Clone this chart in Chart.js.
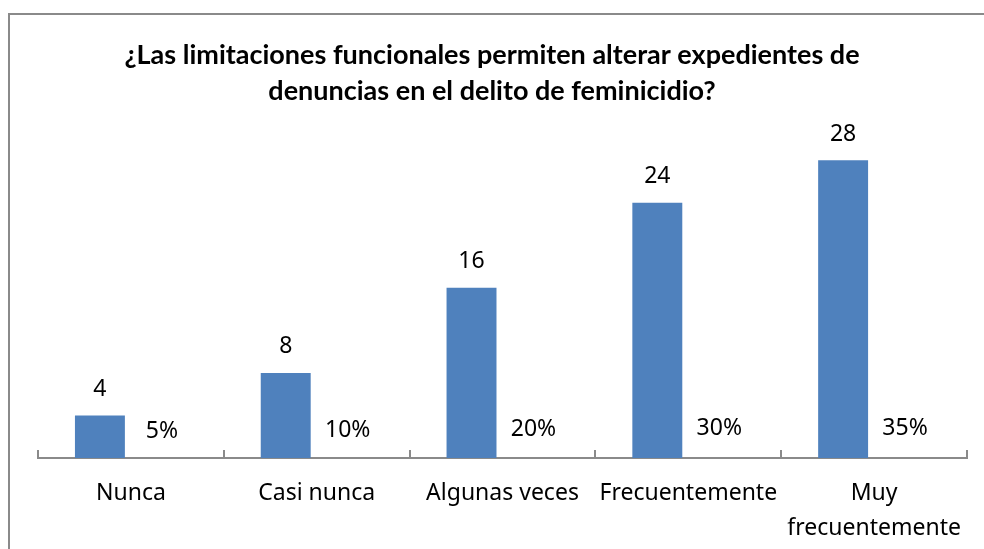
<!DOCTYPE html>
<html lang="es">
<head>
    <meta charset="UTF-8">
    <title>Limitaciones funcionales</title>
    <script src="https://cdn.jsdelivr.net/npm/chart.js"></script>
    <style>
        html, body { margin: 0; padding: 0; background: #fff; }
        #chart { display: block; }
    </style>
</head>
<body>
    <canvas id="chart" width="984" height="549"></canvas>

    <script>
        // Datos
        const categorias = ['Nunca', 'Casi nunca', 'Algunas veces', 'Frecuentemente', ['Muy', 'frecuentemente']];
        const frecuencias = [4, 8, 16, 24, 28];
        const porcentajes = [0.05, 0.10, 0.20, 0.30, 0.35];
        const titulo = ['¿Las limitaciones funcionales permiten alterar expedientes de', 'denuncias en el delito de feminicidio?'];

        const labelFont = '23px "Noto Sans", sans-serif';

        // marco gris del area del grafico
        const frame = {
            id: 'frame',
            beforeDraw(chart) {
                const c = chart.ctx;
                c.save();
                c.fillStyle = '#fff';
                c.fillRect(0, 0, chart.width, chart.height);
                c.strokeStyle = '#8a8a8a';
                c.lineWidth = 2;
                c.strokeRect(9, 14, 1200, 1000);
                c.restore();
            }
        };

        // etiquetas de datos sobre cada barra
        const dataLabels = {
            id: 'dataLabels',
            afterDatasetsDraw(chart) {
                const c = chart.ctx;
                c.save();
                c.font = labelFont;
                c.fillStyle = '#000';
                c.textAlign = 'center';
                c.textBaseline = 'middle';
                chart.data.datasets.forEach((ds, i) => {
                    chart.getDatasetMeta(i).data.forEach((bar, j) => {
                        const v = ds.data[j];
                        const txt = i === 1 ? Math.round(v * 100) + '%' : String(v);
                        c.fillText(txt, bar.x, bar.y - 26);
                    });
                });
                c.restore();
            }
        };

        const ctx = document.getElementById('chart').getContext('2d');
        new Chart(ctx, {
            type: 'bar',
            data: {
                labels: categorias,
                datasets: [{
                    label: 'Frecuencia',
                    data: frecuencias,
                    backgroundColor: '#4f81bd',
                    categoryPercentage: 0.667,
                    barPercentage: 0.806
                }, {
                    label: 'Porcentaje',
                    data: porcentajes,
                    backgroundColor: 'rgba(0,0,0,0)',
                    categoryPercentage: 0.667,
                    barPercentage: 0.806
                }]
            },
            options: {
                responsive: false,
                animation: false,
                layout: { padding: { left: 17, right: 17, top: 0, bottom: 0 } },
                plugins: {
                    legend: { display: false },
                    tooltip: { enabled: false },
                    title: {
                        display: true,
                        text: titulo,
                        color: '#000',
                        font: { family: '"Liberation Sans Narrow", "Lato", sans-serif', size: 27, weight: 'bold', lineHeight: '36px' },
                        padding: { top: 37, bottom: 30 }
                    }
                },
                scales: {
                    x: {
                        offset: true,
                        grid: {
                            display: true,
                            offset: true,
                            drawOnChartArea: false,
                            drawTicks: true,
                            tickLength: -8,
                            color: '#8a8a8a',
                            lineWidth: 2
                        },
                        border: { display: true, color: '#8a8a8a', width: 2 },
                        ticks: {
                            color: '#000',
                            padding: 25.5,
                            maxRotation: 0,
                            autoSkip: false,
                            font: { family: '"Noto Sans", sans-serif', size: 23, lineHeight: '35px' }
                        },
                        afterFit(scale) {
                            scale.height = 91;
                            scale.paddingLeft = 0;
                            scale.paddingRight = 0;
                        }
                    },
                    y: {
                        display: true,
                        min: 0,
                        max: 30,
                        grid: { display: false },
                        border: { display: false },
                        ticks: { display: false },
                        afterFit(scale) { scale.width = 21; }
                    }
                }
            },
            plugins: [frame, dataLabels]
        });
    </script>
</body>
</html>
